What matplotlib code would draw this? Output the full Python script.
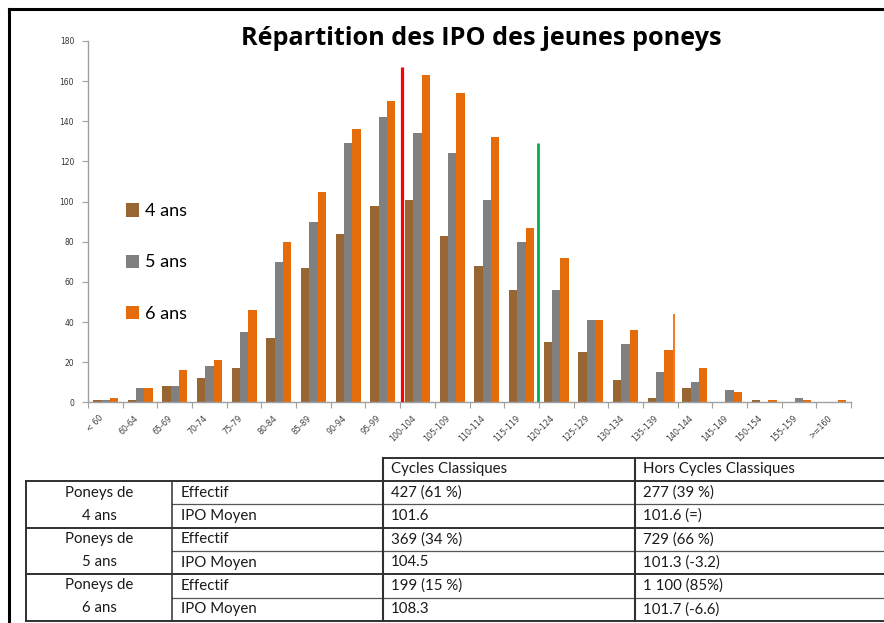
import numpy as np
import matplotlib
matplotlib.use('Agg')
import matplotlib.pyplot as plt

# ---- données ----
categories = ['< 60', '60-64', '65-69', '70-74', '75-79', '80-84', '85-89', '90-94',
              '95-99', '100-104', '105-109', '110-114', '115-119', '120-124', '125-129',
              '130-134', '135-139', '140-144', '145-149', '150-154', '155-159', '>=160']
ans4 = [1, 1, 8, 12, 17, 32, 67, 84, 98, 101, 83, 68, 56, 30, 25, 11, 2, 7, 0, 1, 0, 0]
ans5 = [1, 7, 8, 18, 35, 70, 90, 129, 142, 134, 124, 101, 80, 56, 41, 29, 15, 10, 6, 0, 2, 0]
ans6 = [2, 7, 16, 21, 46, 80, 105, 136, 150, 163, 154, 132, 87, 72, 41, 36, 26, 17, 5, 1, 1, 1]
series_labels = ['4 ans', '5 ans', '6 ans']

# traits verticaux ajoutés à la main (position en unité catégorie, hauteur)
mark_x = [8.56, 12.48, 16.40]
mark_top = [167, 129, 44]

# tableau
tab_header = ['Cycles Classiques', 'Hors Cycles Classiques']
tab_groups = ['Poneys de\n4 ans', 'Poneys de\n5 ans', 'Poneys de\n6 ans']
tab_rowlab = ['Effectif', 'IPO Moyen']
tab_cc = ['427 (61 %)', '101.6', '369 (34 %)', '104.5', '199 (15 %)', '108.3']
tab_hcc = ['277 (39 %)', '101.6 (=)', '729 (66 %)', '101.3 (-3.2)', '1 100 (85%)', '101.7 (-6.6)']

colors = ['#996633', '#808080', '#E46C0A']
mark_colors = ['#FF0000', '#00B050', '#F26B0F']
mark_lw = [2.3, 2.0, 1.3]

W, H = 884, 623
fig = plt.figure(figsize=(W / 100, H / 100), dpi=100)

# ---- calque pixel : cadre + tableau ----
bg = fig.add_axes([0, 0, 1, 1])
bg.set_xlim(0, W); bg.set_ylim(H, 0); bg.axis('off')
bg.plot([9, W], [9, 9], color='k', lw=2.2)
bg.plot([9, 9], [9, H], color='k', lw=2.2)

xc = [26, 172, 383, 635, W]
yr = [457.5, 481, 504.3, 527.5, 551, 574, 597.5, 621]
lc = '#303030'
bg.plot([xc[2], W], [yr[0]] * 2, color=lc, lw=1.4)
for k in range(1, 8):
    if k % 2 == 1:
        bg.plot([xc[0], W], [yr[k]] * 2, color=lc, lw=1.4)
    else:
        bg.plot([xc[1], W], [yr[k]] * 2, color='#555555', lw=0.9)
bg.plot([xc[0]] * 2, [yr[1], yr[7]], color=lc, lw=1.4)
bg.plot([xc[1]] * 2, [yr[1], yr[7]], color=lc, lw=1.1)
bg.plot([xc[2]] * 2, [yr[0], yr[7]], color=lc, lw=1.5)
bg.plot([xc[3]] * 2, [yr[0], yr[7]], color=lc, lw=1.5)

tf = dict(family='Lato', fontsize=10.8, color='#1a1a1a', va='center')
bg.text(xc[2] + 8, (yr[0] + yr[1]) / 2, tab_header[0], **tf)
bg.text(xc[3] + 8, (yr[0] + yr[1]) / 2, tab_header[1], **tf)
for g in range(3):
    y0 = yr[1 + 2 * g]
    top, bot = tab_groups[g].split('\n')
    bg.text((xc[0] + xc[1]) / 2, y0 + 11.5, top, ha='center', **tf)
    bg.text((xc[0] + xc[1]) / 2, y0 + 34.5, bot, ha='center', **tf)
    for r in range(2):
        i = 2 * g + r
        yc = (yr[1 + i] + yr[2 + i]) / 2
        bg.text(xc[1] + 9, yc, tab_rowlab[r], **tf)
        bg.text(xc[2] + 8, yc, tab_cc[i], **tf)
        bg.text(xc[3] + 8, yc, tab_hcc[i], **tf)

# ---- histogramme ----
ax = fig.add_axes([88 / W, 1 - 402.3 / H, 763 / W, 361.3 / H])
ax.patch.set_alpha(0)
x = np.arange(len(categories))
bw = 0.24
for k, (vals, c, lab) in enumerate(zip([ans4, ans5, ans6], colors, series_labels)):
    ax.bar(x + (k - 1) * bw, vals, width=bw, color=c, label=lab, zorder=2)
for mx, mt, c, lw in zip(mark_x, mark_top, mark_colors, mark_lw):
    ax.plot([mx, mx], [0, mt], color=c, lw=lw, zorder=3, solid_capstyle='butt')

ax.set_xlim(-0.5, len(categories) - 0.5)
ax.set_ylim(0, 180)
ax.set_yticks(np.arange(0, 181, 20))
ax.set_xticks(x)
ax.set_xticklabels(categories, rotation=45, ha='right', fontsize=5.8,
                   family='DejaVu Sans', color='#404040')
ax.set_xticks(np.arange(-0.5, len(categories), 1), minor=True)
ax.tick_params(axis='x', which='major', length=0, pad=8)
ax.tick_params(axis='x', which='minor', length=4, color='#A0A0A0', width=0.8)
ax.tick_params(axis='y', length=4, color='#A0A0A0', width=0.8, labelsize=5.5,
               labelcolor='#333333', pad=6)
for t in ax.get_yticklabels():
    t.set_family('DejaVu Sans')
for s in ['top', 'right']:
    ax.spines[s].set_visible(False)
for s in ['left', 'bottom']:
    ax.spines[s].set_color('#A0A0A0')
    ax.spines[s].set_linewidth(1.0)

leg = ax.legend(loc='upper left', bbox_to_anchor=(0.028, 0.596), frameon=False,
                prop={'family': 'Lato', 'size': 13}, labelspacing=1.95,
                handlelength=0.75, handleheight=0.75, handletextpad=0.3)

fig.text(481.5 / W, 1 - 45 / H, 'Répartition des IPO des jeunes poneys', ha='center',
         va='baseline', fontsize=18.2, fontweight='bold', family='Open Sans', color='#000000')

fig.savefig('out.png', dpi=100)
